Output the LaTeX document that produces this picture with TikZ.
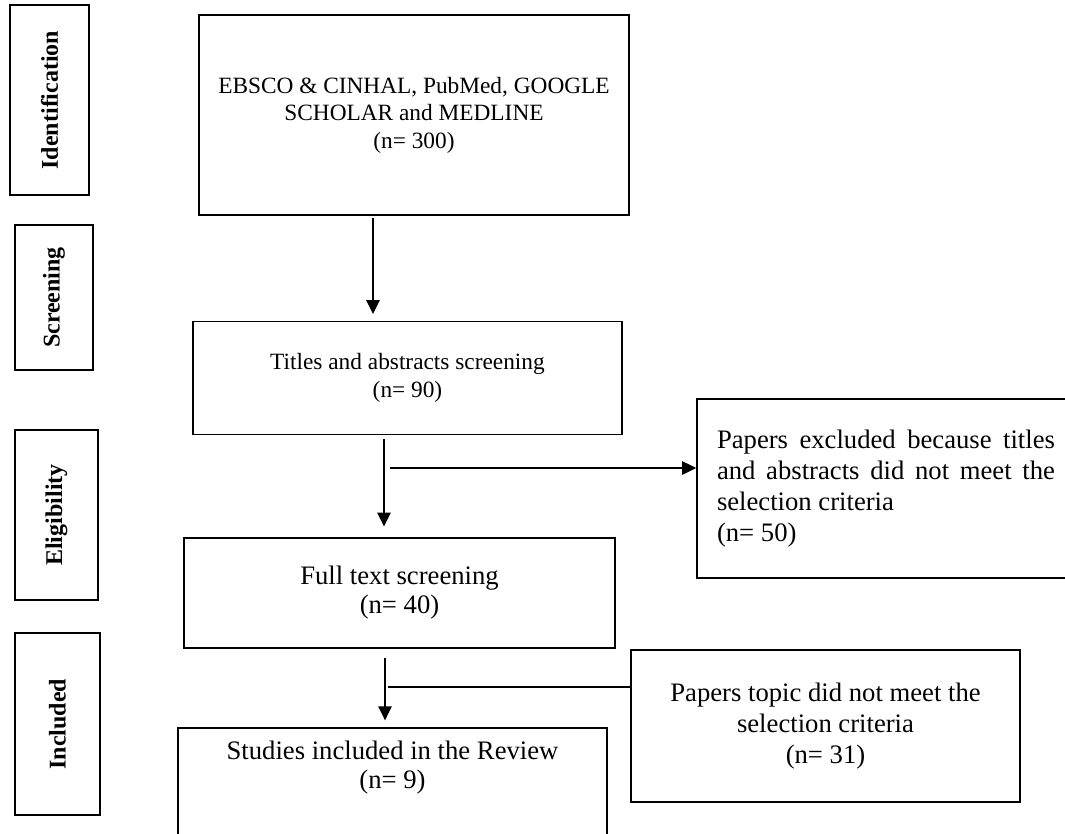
\documentclass[tikz,border=0pt]{standalone}
\usepackage{fontspec}
\setmainfont{Liberation Serif}
\usetikzlibrary{arrows.meta}
\hbadness=10000

\begin{document}
\begin{tikzpicture}[x=0.75pt,y=-0.75pt,
    box/.style={draw, rectangle, line width=1.2pt, inner sep=0pt, align=center},
    phase/.style={box, rotate=90, font=\bfseries\fontsize{18}{20}\selectfont},
    smalltxt/.style={font=\fontsize{17.5}{20.6}\selectfont},
    bigtxt/.style={font=\fontsize{20}{21.75}\selectfont},
    sidetxt/.style={font=\fontsize{20}{23.25}\selectfont},
    link/.style={line width=1.2pt},
    arr/.style={link, -{Triangle[length=10.5pt,width=10pt]}}]
    \useasboundingbox (0,0) rectangle (1065,833);
    \clip (0,0) rectangle (1065,833);

    \node[phase, minimum width=142.5pt, minimum height=59.25pt] (idlbl) at (49.5,100) {Identification};
    \node[phase, minimum width=108.75pt, minimum height=58.5pt] (scrlbl) at (54,297.5) {Screening};
    \node[phase, minimum width=127.5pt, minimum height=62.25pt] (elilbl) at (56.5,515) {Eligibility};
    \node[phase, minimum width=136.5pt, minimum height=63.75pt] (inclbl) at (57.5,724) {Included};

    \node[box, smalltxt, minimum width=322.5pt, minimum height=150pt] (src) at (414,115) {EBSCO \& CINHAL, PubMed, GOOGLE\\SCHOLAR and MEDLINE\\(n= 300)};
    \node[box, smalltxt, minimum width=321.75pt, minimum height=84.75pt] (ttl) at (407.5,378) {Titles and abstracts screening\\(n= 90)};
    \node[box, bigtxt, minimum width=323.25pt, minimum height=82.5pt] (full) at (399.5,593) {Full text screening\\(n= 40)};
    \node[box, bigtxt, anchor=north, minimum width=321.75pt, inner ysep=10pt, text depth=130pt] (incl) at (392.5,727) {Studies included in the Review\\(n= 9)};

    \node[box, sidetxt, text width=253.5pt, align=justify, inner xsep=15pt, minimum height=134.25pt] (exc1) at (886,488.5) {Papers excluded because titles\linebreak and abstracts did not meet the\linebreak selection criteria\\(n= 50)};
    \node[box, sidetxt, minimum width=291.75pt, minimum height=114pt] (exc2) at (825.5,726) {Papers topic did not meet the\\selection criteria\\(n= 31)};

    \coordinate (c1) at (373,0);
    \coordinate (c2) at (384,0);
    \coordinate (c3) at (385,0);
    \coordinate (s1) at (390,468);
    \coordinate (s2) at (388,687);

    \draw[arr, shorten <=2pt, shorten >=5pt] (src.south -| c1) -- (ttl.north -| c1);
    \draw[arr, shorten <=3pt, shorten >=8pt] (ttl.south -| c2) -- (full.north -| c2);
    \draw[arr, shorten <=7pt, shorten >=5pt] (full.south -| c3) -- (incl.north -| c3);
    \draw[arr] (s1) -- (s1 -| exc1.west);
    \draw[link] (s2) -- (s2 -| exc2.west);
\end{tikzpicture}
\end{document}
